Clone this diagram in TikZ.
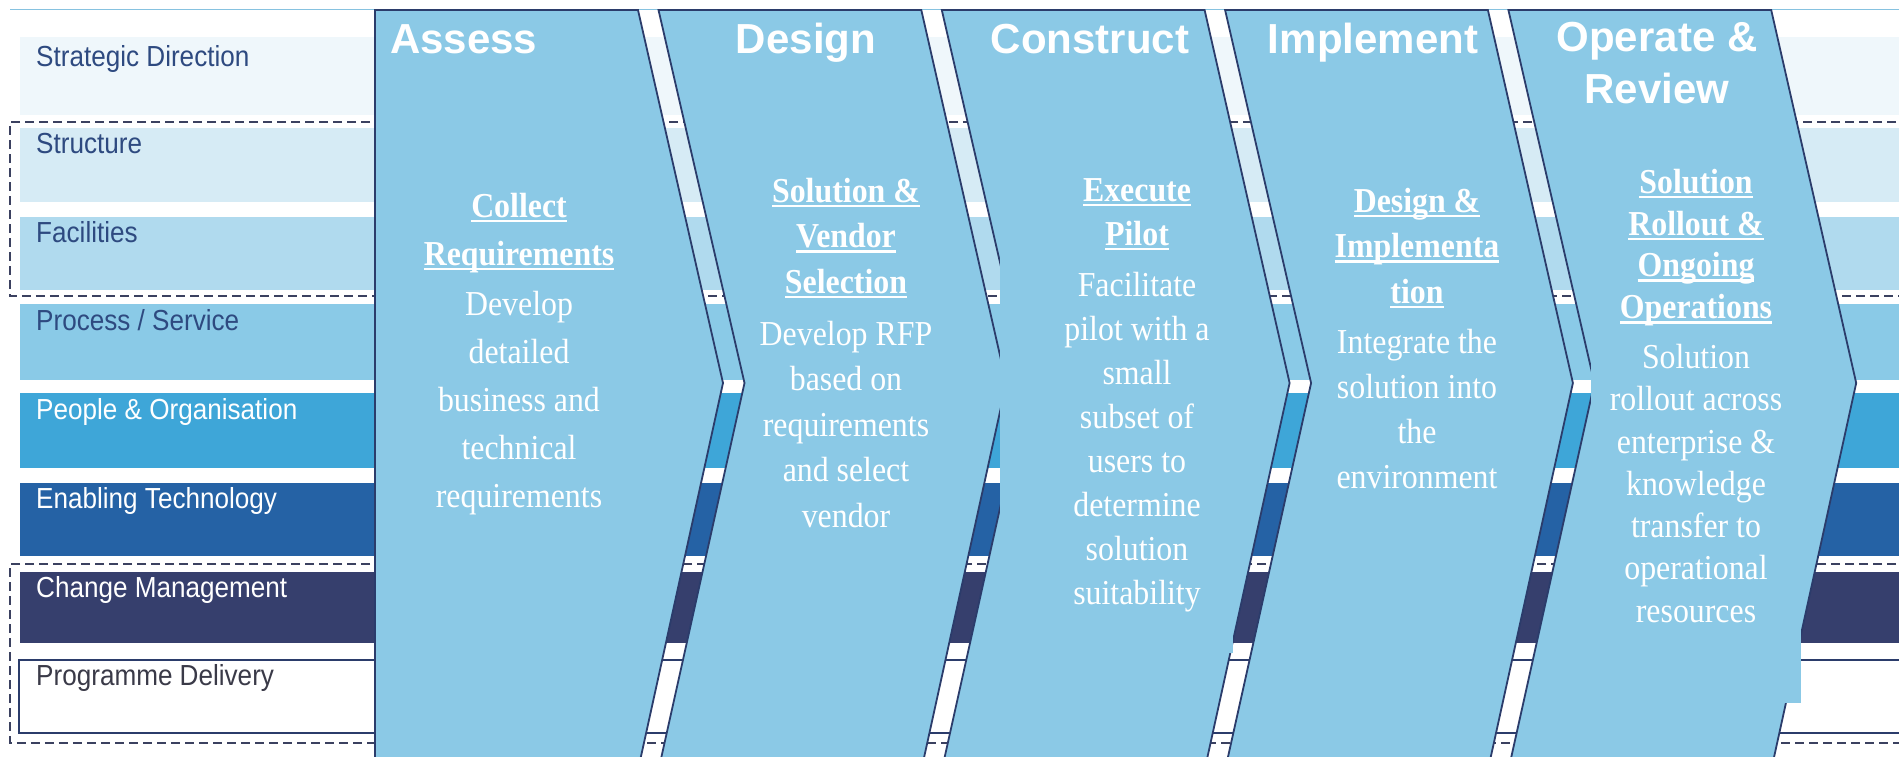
\documentclass[tikz,border=0pt]{standalone}
\usepackage{fontspec}
\setmainfont{Liberation Serif}
\setsansfont{Liberation Sans}
% slightly narrowed faces for the band labels and the phase descriptions
\newfontfamily\lblfont[FakeStretch=0.9]{Liberation Sans}
\newfontfamily\descfont[FakeStretch=0.91]{Liberation Serif}

\definecolor{chev}{HTML}{8BC9E6}
\definecolor{chevline}{HTML}{2B3C6B}
\definecolor{rowA}{HTML}{EFF7FB}
\definecolor{rowB}{HTML}{D6EBF5}
\definecolor{rowC}{HTML}{B0DAEE}
\definecolor{rowD}{HTML}{8ACAE7}
\definecolor{rowE}{HTML}{3EA6D8}
\definecolor{rowF}{HTML}{2562A5}
\definecolor{rowG}{HTML}{363F6D}
\definecolor{lbldark}{HTML}{2E4A80}
\definecolor{lblgrey}{HTML}{3A3A48}
\definecolor{dashcol}{HTML}{3B4160}
\definecolor{toprule}{HTML}{86C2E0}

% white rule under a heading line
\newcommand\ulx[1]{\setbox0=\hbox{#1}\rlap{\rule[-5pt]{\wd0}{2.6pt}}\box0}

\tikzset{
  grp/.style={dashcol, line width=2, dash pattern=on 9pt off 5pt},
  lbl/.style={anchor=base west, inner sep=0, font=\lblfont\fontsize{29}{32}\selectfont},
  ttl/.style={inner sep=0, text=white, font=\sffamily\bfseries\fontsize{42}{52}\selectfont},
  chevfill/.style={fill=chev},
  chevedge/.style={draw=chevline, line width=1.8, line join=miter},
  head/.style={anchor=north, inner sep=0, align=center, text=white},
  body/.style={anchor=north, inner sep=0, align=center, text=white},
}

\begin{document}
\begin{tikzpicture}[x=1pt, y=-1pt]
\useasboundingbox (0,0) rectangle (1899,756);
\clip (0,0) rectangle (1899,756);
\fill[white] (0,0) rectangle (1899,756);

% thin rule along the top
\draw[toprule, line width=1.5] (10,9.5) -- (1899,9.5);

% horizontal capability bands
\fill[rowA] (20,37) rectangle (1899,115);
\fill[rowB] (20,128) rectangle (1899,202);
\fill[rowC] (20,217) rectangle (1899,290);
\fill[rowD] (20,304) rectangle (1899,380);
\fill[rowE] (20,393) rectangle (1899,468);
\fill[rowF] (20,483) rectangle (1899,556);
\fill[rowG] (20,572) rectangle (1899,643);
\draw[chevline, line width=1.6, fill=white] (19,660) rectangle (1910,733);

% dashed groupings
\draw[grp] (1910,122) -- (10,122) -- (10,296) -- (1910,296);
\draw[grp] (1910,564) -- (10,564) -- (10,743) -- (1910,743);

% band labels
\node[lbl, text=lbldark] (lSD) at (36,66) {Strategic Direction};
\node[lbl, text=lbldark] (lST) at (36,153) {Structure};
\node[lbl, text=lbldark] (lFA) at (36,242) {Facilities};
\node[lbl, text=lbldark] (lPS) at (36,330) {Process / Service};
\node[lbl, text=white] (lPO) at (36,419) {People \& Organisation};
\node[lbl, text=white] (lET) at (36,508) {Enabling Technology};
\node[lbl, text=white] (lCM) at (36,597) {Change Management};
\node[lbl, text=lblgrey] (lPD) at (36,685) {Programme Delivery};

% first phase: straight left side
\fill[chevfill] (375,10) -- (638,10) -- (723,383) -- (638,770) -- (375,770) -- cycle;
\draw[chevedge] (375,770) -- (375,10) -- (638,10) -- (723,383) -- (638,770);

% remaining phases: notched left side
\foreach \L/\R in {658.5/921.3, 941.8/1204.6, 1225.1/1487.9, 1508.4/1771.2} {
  \fill[chevfill] (\L,10) -- (\R,10) -- (\R+85,383) -- (\R,770) -- (\L,770) -- (\L+86,383) -- cycle;
  \draw[chevedge] (\L,770) -- (\L+86,383) -- (\L,10) -- (\R,10) -- (\R+85,383) -- (\R,770);
}

% text panels laid over the phase shapes
\fill[chev] (1000,150) rectangle (1233,653);
\fill[chev] (1591,160) rectangle (1801,703);

% phase titles
\node[ttl, anchor=base west] (tAs) at (390,53) {Assess};
\node[ttl, anchor=base] (tDe) at (806,53) {Design};
\node[ttl, anchor=base] (tCo) at (1090,53) {Construct};
\node[ttl, anchor=base] (tIm) at (1373,53) {Implement};
\node[ttl, anchor=north, align=center] (tOp) at (1657,22) {Operate \&\\Review};

% phase descriptions
\node[head, font=\descfont\bfseries\fontsize{35}{48}\selectfont] (hAs) at (519,193)
  {\ulx{Collect}\\\ulx{Requirements}};
\node[body, font=\descfont\fontsize{35}{48}\selectfont] (bAs) at (519,291)
  {Develop\\detailed\\business and\\technical\\requirements};

\node[head, font=\descfont\bfseries\fontsize{35}{45.5}\selectfont] (hDe) at (846,178)
  {\ulx{Solution \&}\\\ulx{Vendor}\\\ulx{Selection}};
\node[body, font=\descfont\fontsize{35}{45.5}\selectfont] (bDe) at (846,321)
  {Develop RFP\\based on\\requirements\\and select\\vendor};

\node[head, font=\descfont\bfseries\fontsize{35}{44}\selectfont] (hCo) at (1137,178)
  {\ulx{Execute}\\\ulx{Pilot}};
\node[body, font=\descfont\fontsize{35}{44}\selectfont] (bCo) at (1137,272)
  {Facilitate\\pilot with a\\small\\subset of\\users to\\determine\\solution\\suitability};

\node[head, font=\descfont\bfseries\fontsize{35}{45.5}\selectfont] (hIm) at (1417,188)
  {\ulx{Design \&}\\\ulx{Implementa}\\\ulx{tion}};
\node[body, font=\descfont\fontsize{35}{45}\selectfont] (bIm) at (1417,329)
  {Integrate the\\solution into\\the\\environment};

\node[head, font=\descfont\bfseries\fontsize{35}{41.7}\selectfont] (hOp) at (1696,169)
  {\ulx{Solution}\\\ulx{Rollout \&}\\\ulx{Ongoing}\\\ulx{Operations}};
\node[body, font=\descfont\fontsize{35}{42.3}\selectfont] (bOp) at (1696,344)
  {Solution\\rollout across\\enterprise \&\\knowledge\\transfer to\\operational\\resources};
\end{tikzpicture}
\end{document}
